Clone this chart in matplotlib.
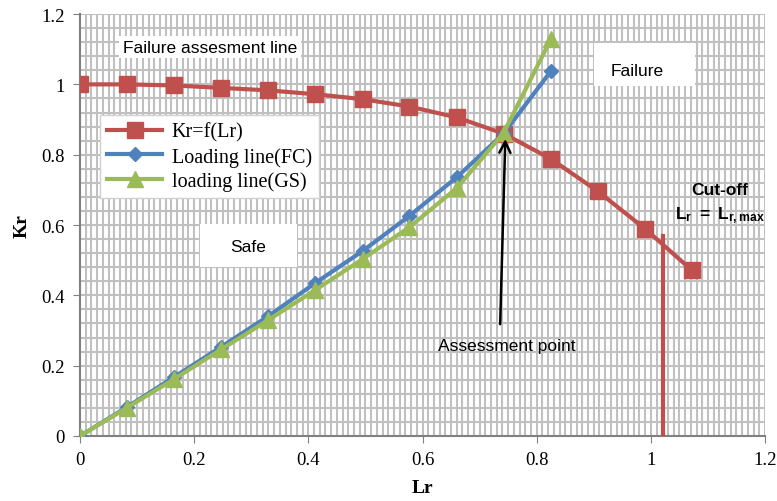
import matplotlib.pyplot as plt
from matplotlib.patches import Rectangle
import numpy as np

# Datos
lr = [0, 0.082, 0.165, 0.247, 0.33, 0.412, 0.495, 0.577, 0.66, 0.742,
      0.825, 0.907, 0.99, 1.072]
kr_fad = [1.0, 1.0, 0.997, 0.99, 0.983, 0.972, 0.958, 0.937, 0.906, 0.86,
          0.788, 0.696, 0.589, 0.471]

lr_carga = lr[:11]
kr_fc = [0, 0.082, 0.168, 0.253, 0.341, 0.435, 0.526, 0.626, 0.736, 0.86, 1.038]
kr_gs = [0, 0.08, 0.162, 0.246, 0.33, 0.415, 0.503, 0.594, 0.705, 0.862, 1.129]

lr_max = 1.021
kr_corte = 0.57

rojo = "#C0504D"
azul = "#4F81BD"
verde = "#9BBB59"

plt.rcParams["font.family"] = "Liberation Serif"
plt.rcParams["mathtext.fontset"] = "custom"
plt.rcParams["mathtext.rm"] = "Liberation Sans"
plt.rcParams["mathtext.bf"] = "Liberation Sans:bold"

fig = plt.figure(figsize=(7.77, 5.02), dpi=100)
ax = fig.add_axes([0.103, 0.1295, 0.8816, 0.8405])

# Cuadricula fina
for x in np.arange(0.01, 1.2001, 0.01):
    ax.axvline(x, color="#C0C0C0", lw=1.5, zorder=0)
for y in np.arange(0.04, 1.2001, 0.04):
    ax.axhline(y, color="#C0C0C0", lw=1.5, zorder=0)

ax.plot(lr, kr_fad, color=rojo, lw=3, marker="s", ms=11, label="Kr=f(Lr)", zorder=3)
ax.plot(lr_carga, kr_fc, color=azul, lw=3, marker="D", ms=7.5,
        label="Loading line(FC)", zorder=4)
ax.plot(lr_carga, kr_gs, color=verde, lw=3, marker="^", ms=12,
        label="loading line(GS)", zorder=5)

# Linea de corte
ax.plot([lr_max, lr_max], [0, kr_corte], color=rojo, lw=3, zorder=3)

ax.set_xlim(0, 1.2)
ax.set_ylim(0, 1.2)
ax.set_xticks(np.arange(0, 1.21, 0.2))
ax.set_yticks(np.arange(0, 1.21, 0.2))
ax.set_xticklabels(["0", "0.2", "0.4", "0.6", "0.8", "1", "1.2"], fontsize=13.5)
ax.set_yticklabels(["0", "0.2", "0.4", "0.6", "0.8", "1", "1.2"], fontsize=13.5)
ax.tick_params(direction="out", length=5, color="#808080", pad=6)
for s in ["top", "right"]:
    ax.spines[s].set_visible(False)
for s in ["left", "bottom"]:
    ax.spines[s].set_color("#808080")
    ax.spines[s].set_linewidth(1.5)

ax.set_xlabel("Lr", fontsize=14, fontweight="bold", labelpad=8)
ax.set_ylabel("Kr", fontsize=14, fontweight="bold", labelpad=8)

leg = ax.legend(loc="upper left", bbox_to_anchor=(0.015, 0.784), frameon=True,
                fancybox=False, edgecolor="#D0D0D0", framealpha=1,
                prop={"family": "Liberation Serif", "size": 14.5},
                handlelength=2.7, handletextpad=0.5, borderpad=0.35,
                labelspacing=0.25)
leg.set_zorder(10)

sans = "Liberation Sans"
# Cajas blancas de las etiquetas
ax.add_patch(Rectangle((0.9, 0.995), 0.177, 0.123, fc="white", ec="none", zorder=6))
ax.add_patch(Rectangle((0.21, 0.481), 0.17, 0.122, fc="white", ec="none", zorder=6))

ax.text(0.075, 1.106, "Failure assesment line", fontfamily=sans,
        fontsize=12.5, va="center", ha="left", zorder=6,
        bbox=dict(boxstyle="square,pad=0.2", fc="white", ec="none"))
ax.text(0.976, 1.04, "Failure", fontfamily=sans, fontsize=12.5,
        ha="center", va="center", zorder=7)
ax.text(0.295, 0.54, "Safe", fontfamily=sans, fontsize=12.5,
        ha="center", va="center", zorder=7)
ax.text(1.121, 0.702, "Cut-off", fontfamily=sans, fontsize=12.5,
        fontweight="bold", ha="center", va="center", zorder=6)
ax.text(1.121, 0.63, r"$\mathbf{L_r\;=\;L_{r,max}}$", fontsize=12.5,
        ha="center", va="center", zorder=6)

ax.text(0.748, 0.256, "Assessment point", fontfamily=sans, fontsize=12.5,
        ha="center", va="center", zorder=7)
ax.annotate("", xy=(0.745, 0.845), xytext=(0.736, 0.318),
            arrowprops=dict(arrowstyle="->", color="black", lw=1.8,
                            mutation_scale=20, shrinkA=0, shrinkB=0),
            zorder=7)

fig.savefig("out.png", dpi=100)
